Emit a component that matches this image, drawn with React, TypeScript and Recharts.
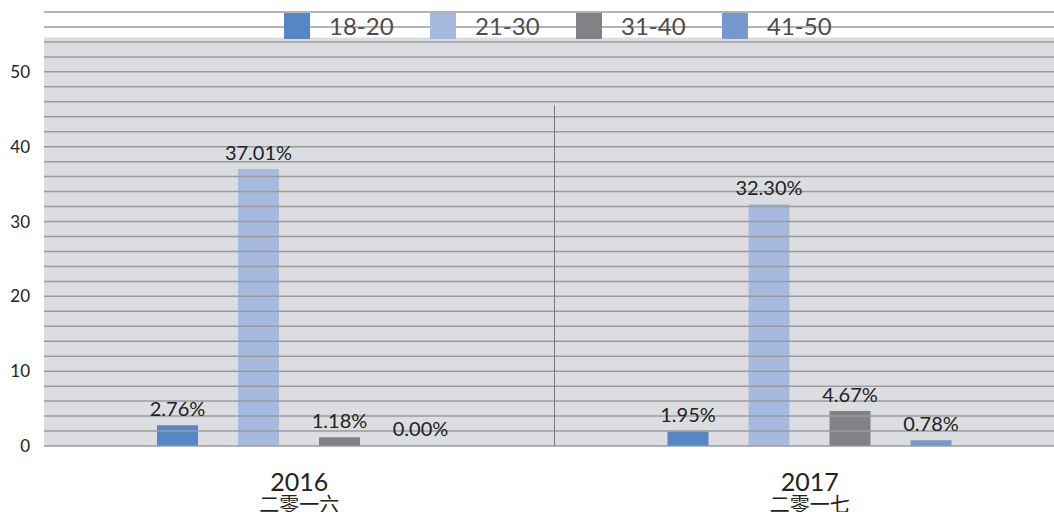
import React from "react";
import {
  BarChart,
  Bar,
  Cell,
  XAxis,
  YAxis,
  Legend,
  LabelList,
  ReferenceArea,
  ReferenceLine,
} from "recharts";

const years = ["2016", "2017"];
const yearsZh = ["二零一六", "二零一七"];
const groups = ["18-20", "21-30", "31-40", "41-50"];
const age18to20 = [2.76, 1.95];
const age21to30 = [37.01, 32.3];
const age31to40 = [1.18, 4.67];
const age41to50 = [0.0, 0.78];
const yTicks = [0, 10, 20, 30, 40, 50];
const gridLines = [0, 2, 4, 6, 8, 10, 12, 14, 16, 18, 20, 22, 24, 26, 28, 30, 32, 34, 36, 38, 40, 42, 44, 46, 48, 50, 52, 54, 56, 58];

const colors = ["#5586c6", "#a6badf", "#818285", "#7698cf"];
const FONT = "Lato, 'Open Sans', sans-serif";

const data = years.map((year, i) => ({
  year,
  "18-20": age18to20[i],
  "21-30": age21to30[i],
  "31-40": age31to40[i],
  "41-50": age41to50[i],
}));

function YearTick(props: any) {
  const { x, y, payload, index } = props;
  return (
    <g>
      <text x={x} y={y + 43} textAnchor="middle" fontSize={25} fill="#222" fontFamily={FONT}>
        {payload.value}
      </text>
      <text
        x={x}
        y={y + 64}
        textAnchor="middle"
        fontSize={20}
        fill="#222"
        fontFamily="'Noto Sans CJK SC', sans-serif"
      >
        {yearsZh[index]}
      </text>
    </g>
  );
}

function LegendBox() {
  return (
    <div style={{ display: "flex", fontFamily: FONT }}>
      {groups.map((g, i) => (
        <div key={g} style={{ width: 146, display: "flex", alignItems: "center" }}>
          <div style={{ width: 26, height: 26, background: colors[i] }} />
          <span style={{ marginLeft: 19, fontSize: 24, color: "#4d4d4d", lineHeight: "26px" }}>{g}</span>
        </div>
      ))}
    </div>
  );
}

const fmt = (v: any) => `${Number(v).toFixed(2)}%`;

export default function App() {
  return (
    <div style={{ position: "absolute", left: 0, top: 0, width: 1054, height: 512, overflow: "hidden", background: "#fff" }}>
      <BarChart
        width={1066}
        height={512}
        data={data}
        margin={{ top: 12, right: 1, left: 0, bottom: 0 }}
        barCategoryGap={112}
        barGap={40}
        barSize={41}
      >
        <ReferenceArea y1={0} y2={54.6} fill="#dcdde0" fillOpacity={1} stroke="none" ifOverflow="visible" />
        {gridLines.map((v) => (
          <ReferenceLine key={v} y={v} stroke="#9a9b9d" strokeWidth={1.5} ifOverflow="visible" />
        ))}
        <ReferenceLine
          segment={[{ x: "2016", y: 45.5 }, { x: "2016", y: 0 }]}
          position="end"
          stroke="#7a7a7a"
          strokeWidth={1}
        />
        <XAxis
          dataKey="year"
          axisLine={false}
          tickLine={false}
          tickSize={0}
          height={66}
          tick={<YearTick />}
          interval={0}
        />
        <YAxis
          width={44}
          domain={[0, 58]}
          ticks={yTicks}
          axisLine={false}
          tickLine={false}
          tickSize={0}
          tickMargin={14}
          tick={{ fontSize: 17, fill: "#222", fontFamily: FONT }}
        />
        <Legend
          verticalAlign="middle"
          align="center"
          content={() => <LegendBox />}
          wrapperStyle={{ top: 13, left: 284, width: 600 }}
        />
        {groups.map((g, i) => (
          <Bar
            key={g}
            dataKey={g}
            fill={colors[i]}
            minPointSize={(v: any) => (Number(v) === 0 ? 1 : 0)}
            isAnimationActive={false}
          >
            {data.map((d: any, j) => (
              <Cell key={j} fill={d[g] === 0 ? "transparent" : colors[i]} />
            ))}
            <LabelList
              dataKey={g}
              position="top"
              offset={9}
              formatter={fmt}
              style={{ fontSize: 20, fill: "#222", fontFamily: FONT }}
            />
          </Bar>
        ))}
      </BarChart>
    </div>
  );
}
